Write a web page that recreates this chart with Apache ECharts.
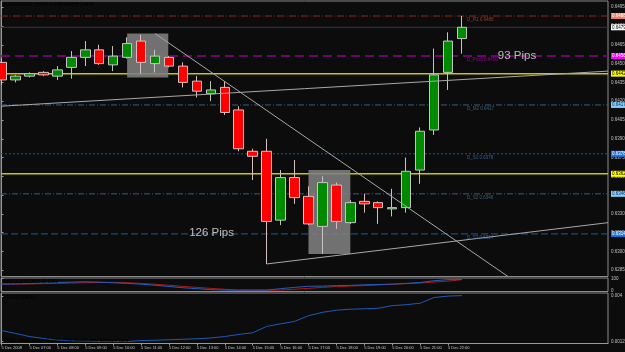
<!DOCTYPE html>
<html>
<head>
<meta charset="utf-8">
<title>AUDUSD,M30</title>
<script src="https://cdn.jsdelivr.net/npm/echarts@6/dist/echarts.min.js"></script>
<style>
  html, body { margin: 0; padding: 0; background: #0c0c0c; }
  #chart { width: 625px; height: 352px; }
</style>
</head>
<body>
<div id="chart"></div>
<script>
// AUDUSD M30 on 5 Dec 2008
const times = ['06:00', '06:30', '07:00', '07:30', '08:00', '08:30', '09:00', '09:30', '10:00', '10:30',
  '11:00', '11:30', '12:00', '12:30', '13:00', '13:30', '14:00', '14:30', '15:00', '15:30',
  '16:00', '16:30', '17:00', '17:30', '18:00', '18:30', '19:00', '19:30', '20:00', '20:30',
  '21:00', '21:30', '22:00', '22:30'];
const openP = [0.6451, 0.6437, 0.6440, 0.6443, 0.6440, 0.6447, 0.6455, 0.6461, 0.6449, 0.6455,
  0.6468, 0.6450, 0.6455, 0.6448, 0.6436, 0.6426, 0.6431, 0.6413, 0.6380, 0.6380,
  0.6325, 0.6359, 0.6344, 0.6320, 0.6353, 0.6323, 0.6340, 0.6339, 0.6334, 0.6335,
  0.6365, 0.6397, 0.6443, 0.6470];
const highP = [0.6454, 0.6441, 0.6443, 0.6444, 0.6448, 0.6460, 0.6468, 0.6465, 0.6464, 0.6471,
  0.6473, 0.6461, 0.6456, 0.6451, 0.6440, 0.6436, 0.6436, 0.6416, 0.6382, 0.6390,
  0.6365, 0.6373, 0.6352, 0.6360, 0.6355, 0.6341, 0.6346, 0.6340, 0.6350, 0.6375,
  0.6399, 0.6462, 0.6475, 0.6488];
const lowP = [0.6433, 0.6435, 0.6439, 0.6440, 0.6437, 0.6438, 0.6448, 0.6449, 0.6444, 0.6454,
  0.6442, 0.6443, 0.6447, 0.6431, 0.6423, 0.6420, 0.6409, 0.6380, 0.6357, 0.6290,
  0.6321, 0.6338, 0.6321, 0.6298, 0.6318, 0.6322, 0.6331, 0.6322, 0.6328, 0.6331,
  0.6354, 0.6393, 0.6429, 0.6458];
const closeP = [0.6437, 0.6440, 0.6442, 0.6441, 0.6445, 0.6455, 0.6461, 0.6450, 0.6456, 0.6466,
  0.6451, 0.6456, 0.6448, 0.6435, 0.6428, 0.6429, 0.6411, 0.6382, 0.6376, 0.6324,
  0.6359, 0.6343, 0.6322, 0.6355, 0.6324, 0.6339, 0.6338, 0.6335, 0.6335, 0.6364,
  0.6396, 0.6441, 0.6468, 0.6479];

// sub windows
const stochMain = [55, 57, 59, 64, 68, 71, 74, 71, 66, 61, 55, 46, 36, 26, 19, 11, 7, 7, 7, 7,
  19, 29, 38, 39, 43, 45, 50, 52, 55, 61, 68, 82, 91, 92.08];
const stochSignal = [55, 56, 57, 59, 61, 64, 66, 68, 69, 66, 61, 54, 46, 37, 29, 21, 14, 7, 7, 7,
  7, 14, 21, 29, 36, 40, 43, 49, 54, 59, 64, 72, 79, 90.53];
const atrValues = [0.00188, 0.00170, 0.00151, 0.00139, 0.00129, 0.00124, 0.00122, 0.00120, 0.00120, 0.00120,
  0.00126, 0.00128, 0.00131, 0.00134, 0.00137, 0.00142, 0.00151, 0.00164, 0.00174, 0.00213,
  0.00229, 0.00244, 0.00279, 0.00300, 0.00313, 0.00319, 0.00322, 0.00325, 0.00341, 0.00347,
  0.00356, 0.00391, 0.00400, 0.00403];

// price scale
const priceTicks = [0.6495, 0.6480, 0.6465, 0.6450, 0.6435, 0.6420, 0.6405, 0.6390,
  0.6375, 0.6360, 0.6345, 0.6330, 0.6315, 0.6300, 0.6285];
const stochTicks = [100, 0];
const atrTicks = [0.004, 0.0012];

// horizontal levels (pivot indicator, bid, manual lines)
const levelNames = ['D_R1', '', 'D_Pivot', '', 'D_M2', 'D_S1', '', 'D_S2', 'D_S3'];
const levelPrices = [0.6488, 0.6479, 0.6456, 0.6442, 0.6417, 0.6378, 0.6362, 0.6346, 0.6314];

// drawn objects: boxes [x0, x1, top, bottom] and trend lines
const boxes = [[9, 11.95, 0.6474, 0.6439], [22, 25, 0.6365, 0.6298]];
const trendLines = [
  [[11, 0.6474], [36.3, 0.6280]],
  [[-0.04, 0.6416], [43.47, 0.6444]],
  [[19, 0.6290], [43.47, 0.6323]]
];
const pipNotes = ['93 Pips', '126 Pips'];

const levelStyles = [
  { color: '#8c2c1e', type: [7, 2, 1, 2], width: 1, bg: '#e8806e', fg: '#ffffff', text: '#b04a38' },
  { color: '#2e3646', type: 'solid', width: 1, bg: '#ffffff', fg: '#000000' },
  { color: '#8e008e', type: [9, 5], width: 1.5, bg: '#ff00ff', fg: '#ffffff', text: '#b000b0' },
  { color: '#c8c800', type: 'solid', width: 1.5, bg: '#ffff00', fg: '#000000' },
  { color: '#3c5a78', type: [6, 2, 1, 2], width: 1, bg: '#87cefa', fg: '#003050', text: '#4a7494' },
  { color: '#1c5aa0', type: [2, 2], width: 1, bg: '#1e78e0', fg: '#ffffff', text: '#3a78c0' },
  { color: '#c8c800', type: 'solid', width: 1.5, bg: '#ffff00', fg: '#000000' },
  { color: '#3c5a78', type: [6, 2, 1, 2], width: 1, bg: '#87cefa', fg: '#003050', text: '#4a7494' },
  { color: '#1c5aa0', type: [7, 3], width: 1, bg: '#1e78e0', fg: '#ffffff', text: '#3a78c0' }
];

const XMIN = -0.04, XMAX = 43.47;
const last = times.length - 1;
const hourIdx = times.map((t, i) => t.endsWith(':00') ? i : -1).filter(i => i >= 0);
const tiny = { fontFamily: 'Liberation Sans', fontSize: 4.5, color: '#c0c0c0' };

const chart = echarts.init(document.getElementById('chart'), null, { renderer: 'canvas' });

const grids = [
  { top: 1, height: 275.5 },
  { top: 278, height: 13.5 },
  { top: 293, height: 50.5 }
].map(g => Object.assign({
  left: 1, right: 17, show: true, borderColor: '#8a8a8a', borderWidth: 1,
  backgroundColor: 'transparent', containLabel: false, outerBoundsMode: 'none'
}, g));

const xAxes = [0, 1, 2].map(k => ({
  type: 'value', gridIndex: k, min: XMIN, max: XMAX,
  axisLine: { show: k === 2, lineStyle: { color: '#9a9a9a' } },
  axisTick: k === 2 ? { show: true, customValues: hourIdx, length: 2, lineStyle: { color: '#9a9a9a' } } : { show: false },
  axisLabel: k === 2 ? {
    show: true, customValues: hourIdx, align: 'left', margin: 2, hideOverlap: false,
    fontFamily: 'Liberation Sans', fontSize: 4, color: '#c8c8c8',
    formatter: v => { const i = Math.round(v); return i === 0 ? '5 Dec 2008' : '5 Dec ' + times[i]; }
  } : { show: false },
  splitLine: { show: false }
}));

function rightAxis(k, min, max, ticks, fmt) {
  return {
    type: 'value', gridIndex: k, position: 'right', min: min, max: max,
    axisLine: { show: true, lineStyle: { color: '#9a9a9a' } },
    axisTick: { show: true, customValues: ticks, length: 2, lineStyle: { color: '#9a9a9a' } },
    axisLabel: Object.assign({ show: true, customValues: ticks, margin: 3, hideOverlap: false, formatter: fmt }, tiny),
    splitLine: { show: false }
  };
}

const yAxes = [
  rightAxis(0, 0.6280, 0.6500, priceTicks, v => v.toFixed(4)),
  rightAxis(1, -4, 104, stochTicks, v => String(v)),
  rightAxis(2, 0.00108, 0.00419, atrTicks, v => String(v))
];

const series = [];

// horizontal levels, each with its price tag on the scale
levelPrices.forEach((p, i) => {
  const st = levelStyles[i];
  series.push({
    type: 'line', xAxisIndex: 0, yAxisIndex: 0, z: 1, symbol: 'none', silent: true,
    data: [[XMIN, p], [XMAX, p]],
    lineStyle: { color: st.color, type: st.type, width: st.width },
    endLabel: {
      show: true, distance: 3, formatter: p.toFixed(4),
      fontFamily: 'Liberation Sans', fontSize: 4.5, color: st.fg,
      backgroundColor: st.bg, padding: [1, 1, 0, 1]
    }
  });
});

// shaded boxes
series.push({
  type: 'line', xAxisIndex: 0, yAxisIndex: 0, z: 2, data: [[XMIN, null]], symbol: 'none', silent: true,
  markArea: {
    z: 2, silent: true,
    itemStyle: { color: 'rgba(128,128,128,0.88)' },
    data: boxes.map(b => [{ coord: [b[0], b[2]] }, { coord: [b[1], b[3]] }])
  }
});

series.push({
  type: 'candlestick', xAxisIndex: 0, yAxisIndex: 0, z: 3, barWidth: 10,
  data: times.map((t, i) => [i, openP[i], closeP[i], lowP[i], highP[i]]),
  itemStyle: {
    color: '#008a00', color0: '#ff0000',
    borderColor: '#c4c4c4', borderColor0: '#d8c0c0', borderWidth: 1
  }
});

trendLines.forEach(line => series.push({
  type: 'line', xAxisIndex: 0, yAxisIndex: 0, z: 4, data: line, symbol: 'none', silent: true,
  lineStyle: { color: '#a8a8a8', width: 1 }
}));

// names of the pivot levels, written just under each line
series.push({
  type: 'scatter', xAxisIndex: 0, yAxisIndex: 0, z: 5, symbolSize: 0, silent: true,
  data: levelPrices.map((p, i) => ({
    value: [33.37, p], name: levelNames[i],
    label: { show: levelNames[i] !== '', color: levelStyles[i].text || '#888' }
  })),
  label: {
    show: true, position: [0, 1], align: 'left', verticalAlign: 'top',
    fontFamily: 'Liberation Sans', fontSize: 4.5,
    formatter: d => d.name + ' ' + d.value[1].toFixed(4)
  }
});

series.push({
  type: 'scatter', xAxisIndex: 0, yAxisIndex: 0, z: 5, symbolSize: 0, silent: true,
  data: [{ value: [36.95, 0.64565], name: pipNotes[0] }, { value: [15.05, 0.63147], name: pipNotes[1] }],
  label: {
    show: true, position: 'inside', formatter: d => d.name,
    fontFamily: 'Liberation Sans', fontSize: 11.5, color: '#e4e4e4'
  }
});

series.push({
  type: 'line', xAxisIndex: 1, yAxisIndex: 1, symbol: 'none', silent: true,
  data: stochSignal.map((v, i) => [i, v]), lineStyle: { color: '#b01818', width: 1 }
});
series.push({
  type: 'line', xAxisIndex: 1, yAxisIndex: 1, symbol: 'none', silent: true,
  data: stochMain.map((v, i) => [i, v]), lineStyle: { color: '#2a5cc0', width: 1 }
});
series.push({
  type: 'line', xAxisIndex: 2, yAxisIndex: 2, symbol: 'none', silent: true,
  data: atrValues.map((v, i) => [i, v]), lineStyle: { color: '#1e5ab4', width: 1 }
});

const headline = 'AUDUSD,M30  ' + [openP[last], highP[last], lowP[last], closeP[last]].map(v => v.toFixed(4)).join(' ');

chart.setOption({
  backgroundColor: '#0c0c0c',
  animation: false,
  grid: grids,
  xAxis: xAxes,
  yAxis: yAxes,
  series: series,
  graphic: [
    { type: 'text', left: 3, top: 2, z: 10, style: Object.assign({ text: headline }, tiny) },
    { type: 'text', left: 3, top: 279.5, z: 10, style: Object.assign({ text: 'Sto(5,3,3) 92.0814 90.5293' }, tiny) },
    { type: 'text', left: 3, top: 295.5, z: 10, style: Object.assign({ text: 'ATR(20) ' + atrValues[last].toFixed(4) }, tiny) },
    { type: 'text', left: 3, top: 338.5, z: 10, style: Object.assign({ text: 'FXDD - MetaTrader - \u00A9 2001-2008 MetaQuotes Software Corp.' }, tiny) }
  ]
});
</script>
</body>
</html>
